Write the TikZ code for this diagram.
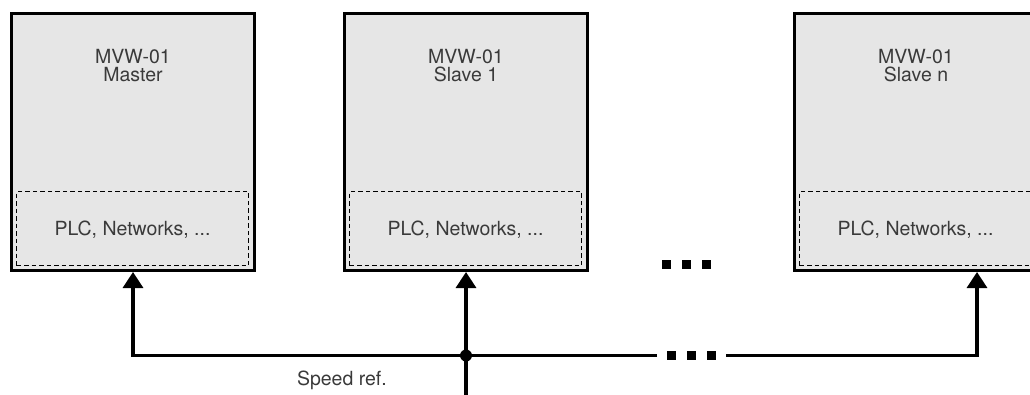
\documentclass[tikz,border=0pt]{standalone}
\usepackage{fontspec}
\setmainfont{TeX Gyre Heros}
\usetikzlibrary{arrows.meta,calc}
\definecolor{boxfill}{HTML}{E6E6E6}
\definecolor{txt}{HTML}{3A3A3A}
\tikzset{
  unitbox/.style={draw=black, fill=boxfill, line width=3pt, minimum width=243pt, minimum height=257pt, inner sep=0pt},
  innerbox/.style={draw=black, dash pattern=on 4.5pt off 3pt, line width=1.6pt, minimum width=232pt, minimum height=74pt, inner sep=0pt, text=txt, font=\fontsize{19.5}{20}\selectfont, text height=14pt, text depth=0pt},
  title/.style={text=txt, font=\fontsize{19.5}{20}\selectfont, inner sep=0pt, anchor=base},
  conn/.style={line width=3.2pt, -{Triangle[width=20pt,length=16pt]}},
  sq/.style={fill=black, minimum size=8.4pt, inner sep=0pt, draw=none},
  junction/.style={circle, fill=black, minimum size=12pt, inner sep=0pt}
}
\begin{document}
\begin{tikzpicture}[x=1pt,y=-1pt]
\useasboundingbox (0,0) rectangle (1030,394);
\clip (0,0) rectangle (1030,394);
% boxes
\node[unitbox] (m) at (133,142) {};
\node[unitbox] (s1) at (466,142) {};
\node[unitbox] (sn) at (916,142) {};
% inner dashed boxes
\node[innerbox] (pm) at (132.5,228.5) {PLC, Networks, ...};
\node[innerbox] (p1) at (465.5,228.5) {PLC, Networks, ...};
\node[innerbox] (pn) at (915.5,228.5) {PLC, Networks, ...};
% titles
\node[title] (tm1) at (133,63.3) {MVW-01};
\node[title] (tm2) at (133,81) {Master};
\node[title] (t11) at (466,63.3) {MVW-01};
\node[title] (t12) at (466,81) {Slave 1};
\node[title] (tn1) at (916,63.3) {MVW-01};
\node[title] (tn2) at (916,81) {Slave n};
% ellipsis between boxes
\node[sq] (u1) at (666.5,264.5) {};
\node[sq] (u2) at (686.5,264.5) {};
\node[sq] (u3) at (706.5,264.5) {};
% bus
\coordinate (j) at (466,355.5);
\coordinate (src) at (466,398);
\coordinate (bl) at (657,355.5);
\coordinate (br) at (726,355.5);
\node[sq] (l1) at (671.5,355.5) {};
\node[sq] (l2) at (691.5,355.5) {};
\node[sq] (l3) at (711.5,355.5) {};
\draw[conn] (bl) -| (m.south);
\draw[conn] (br) -| ([xshift=61pt]sn.south);
\draw[conn] (src) -- (s1.south);
\node[junction] (jn) at (j) {};
\node[title, anchor=base east] (sr) at (387,385) {Speed ref.};
\end{tikzpicture}
\end{document}
